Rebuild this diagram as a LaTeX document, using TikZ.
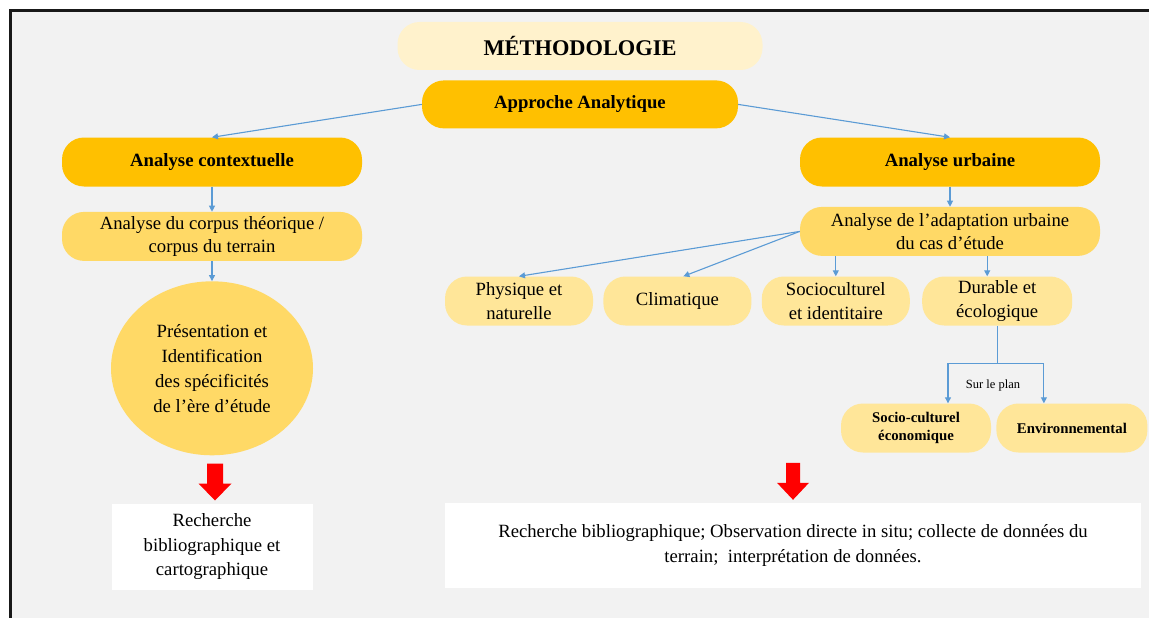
\documentclass[tikz,border=0pt]{standalone}
\usepackage{fontspec}
\setmainfont{Liberation Serif}
\usetikzlibrary{shapes.geometric,arrows.meta,positioning,calc}
\definecolor{panelgray}{HTML}{F2F2F2}
\definecolor{goldstrong}{HTML}{FFC000}
\definecolor{goldmid}{HTML}{FFD966}
\definecolor{goldlight}{HTML}{FFE699}
\definecolor{creme}{HTML}{FFF2CC}
\definecolor{linkblue}{HTML}{5B9BD5}

\begin{document}
\begin{tikzpicture}[
    x=1pt, y=-1pt,
    >={Triangle[length=6pt,width=6pt]},
    pill/.style={rounded corners=22pt, align=center, inner sep=0pt, minimum height=49pt, font=\fontsize{18.7}{23.5}\selectfont},
    head/.style={pill, fill=goldstrong, minimum width=300pt, font=\fontsize{18.7}{23.5}\selectfont\bfseries},
    sub/.style={pill, fill=goldmid, minimum width=300pt},
    leaf/.style={pill, fill=goldlight, minimum width=148pt},
    tool/.style={fill=white, align=center, inner sep=0pt, font=\fontsize{18.7}{24.5}\selectfont},
    link/.style={->, draw=linkblue, line width=1.1pt},
    bigarrow/.style={fill=red}
]
    \useasboundingbox (0,0) rectangle (1149,618);
    \draw[line width=3pt, draw=black!90, fill=panelgray] (10.5,10.5) rectangle (1170,640);

    \node[pill, fill=creme, minimum width=365pt, minimum height=48pt, font=\fontsize{22.4}{26}\selectfont\bfseries] (methodo) at (580,46) {MÉTHODOLOGIE};
    \node[head, minimum width=316pt, minimum height=48pt, below=10pt of methodo] (approche) {Approche Analytique};
    \node[head] (contexte) at (212,162) {Analyse contextuelle};
    \node[head] (urbaine) at (950,162) {Analyse urbaine};

    % Analyse contextuelle
    \node[sub, below=25pt of contexte] (corpus) {Analyse du corpus théorique /\\corpus du terrain};
    \node[ellipse, fill=goldmid, minimum width=202pt, minimum height=174pt, inner sep=0pt, align=center, font=\fontsize{18.7}{25}\selectfont, below=20pt of corpus] (ere) {Présentation et\\Identification\\des spécificités\\de l’ère d'étude};
    \coordinate (flecheL) at ([xshift=3pt, yshift=-8pt]ere.south);
    \node[tool, minimum width=201pt, minimum height=86pt, below=48pt of ere] (biblioL) {Recherche\\bibliographique et\\cartographique};

    % Analyse urbaine
    \node[sub, below=20pt of urbaine] (adapt) {Analyse de l'adaptation urbaine\\du cas d’étude};
    \node[leaf] (physique) at (519,301) {Physique et\\naturelle};
    \node[leaf, right=10pt of physique] (climat) {Climatique};
    \node[leaf, right=10pt of climat] (socio) {Socioculturel\\et identitaire};
    \node[leaf, minimum width=150pt, right=12pt of socio] (durable) {Durable et\\écologique};
    \node[leaf, minimum width=150pt, font=\fontsize{14.8}{17.7}\selectfont\bfseries] (plansocio) at (916,428) {Socio-culturel\\économique};
    \node[leaf, minimum width=151pt, font=\fontsize{14.8}{17.7}\selectfont\bfseries, right=5pt of plansocio] (planenv) {Environnemental};
    \node[font=\fontsize{12.5}{14}\selectfont] (surplan) at (993,385) {Sur le plan};
    \node[tool, minimum width=696pt, minimum height=85pt] (biblioR) at (793,545.5) {Recherche bibliographique; Observation directe in situ; collecte de données du\\terrain;~ interprétation de données.};
    \coordinate (flecheR) at ([yshift=40pt]biblioR.north);

    % fleches rouges
    \fill[bigarrow] (flecheL) ++(-8,0) -- ++(0,20) -- ++(-8.5,0) -- ++(16.5,17) -- ++(16.5,-17) -- ++(-8.5,0) -- ++(0,-20) -- cycle;
    \fill[bigarrow] (flecheR) ++(-7,0) -- ++(0,20) -- ++(-9,0) -- ++(16,17) -- ++(16,-17) -- ++(-9,0) -- ++(0,-20) -- cycle;

    % liens
    \draw[link] (approche.west) -- (contexte.north);
    \draw[link] (approche.east) -- (urbaine.north);
    \draw[link] (contexte) -- (corpus);
    \draw[link] (corpus) -- (ere);
    \draw[link] (urbaine) -- (adapt);
    \draw[link] (adapt.west) -- (physique.north);
    \draw[link] (adapt.west) -- ([xshift=6pt]climat.north);
    \draw[link] (adapt.south -| socio.north) -- (socio.north);
    \draw[link] ([xshift=-10pt]durable.north |- adapt.south) -- ([xshift=-10pt]durable.north);
    \coordinate (fourche) at ($(durable.south)+(0,38)$);
    \draw[draw=linkblue, line width=1.1pt] (durable.south) -- (fourche);
    \draw[link] (fourche) -| ([xshift=32pt]plansocio.north);
    \draw[link] (fourche) -| ([xshift=-28pt]planenv.north);

\end{tikzpicture}
\end{document}
